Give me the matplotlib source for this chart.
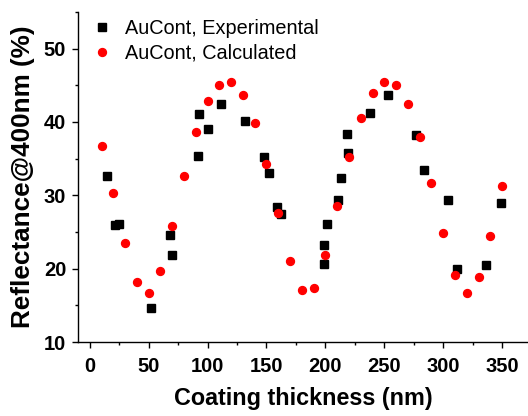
import matplotlib
matplotlib.use("Agg")
import matplotlib.pyplot as plt
from matplotlib.ticker import MultipleLocator

plt.rcParams['font.family'] = ['Liberation Sans', 'DejaVu Sans']

exp_x = [15, 21, 25, 52, 68, 70, 92, 93, 100, 111, 132, 148, 152, 159, 162,
         199, 199, 201, 211, 213, 218, 219, 238, 253, 277, 284, 304, 312, 336, 349]
exp_y = [32.6, 26.0, 26.1, 14.6, 24.6, 21.9, 35.4, 41.1, 39.0, 42.4, 40.2, 35.2, 33.0, 28.4, 27.4,
         20.7, 23.2, 26.1, 29.3, 32.4, 38.4, 35.8, 41.2, 43.7, 38.2, 33.4, 29.3, 20.0, 20.5, 29.0]

calc_x = [10, 20, 30, 40, 50, 60, 70, 80, 90, 100, 110, 120, 130, 140, 150, 160, 170, 180,
          190, 200, 210, 220, 230, 240, 250, 260, 270, 280, 290, 300, 310, 320, 330, 340, 350]
calc_y = [36.7, 30.3, 23.5, 18.2, 16.7, 19.7, 25.8, 32.6, 38.6, 42.9, 45.1, 45.4, 43.7, 39.9,
          34.3, 27.6, 21.1, 17.1, 17.4, 21.9, 28.6, 35.2, 40.5, 44.0, 45.5, 45.0, 42.4, 37.9,
          31.7, 24.9, 19.1, 16.7, 18.8, 24.4, 31.3]

W, H = 528, 416
fig = plt.figure(figsize=(W / 100, H / 100), dpi=100)
ax = fig.add_axes([78 / W, 1 - 342 / H, (W - 78) / W, (342 - 12) / H])

ax.plot(exp_x, exp_y, 's', color='black', markersize=5.2, linestyle='none',
        label='AuCont, Experimental')
ax.plot(calc_x, calc_y, 'o', color='#ff0000', markersize=5.7, linestyle='none',
        label='AuCont, Calculated')

ax.set_xlim(-10, 372)
ax.set_ylim(10, 55)
ax.xaxis.set_major_locator(MultipleLocator(50))
ax.xaxis.set_minor_locator(MultipleLocator(25))
ax.yaxis.set_major_locator(MultipleLocator(10))
ax.yaxis.set_minor_locator(MultipleLocator(5))
ax.set_yticks([10, 20, 30, 40, 50])

for s in ['top', 'right']:
    ax.spines[s].set_visible(False)
for s in ['left', 'bottom']:
    ax.spines[s].set_linewidth(1.0)

ax.tick_params(which='major', direction='out', length=4, width=1)
ax.tick_params(which='minor', direction='out', length=2.5, width=1)
ax.tick_params(axis='x', which='major', pad=6.5)
ax.tick_params(axis='y', which='major', pad=4.5)
for lab in ax.get_xticklabels() + ax.get_yticklabels():
    lab.set_fontsize(14.5)
    lab.set_fontweight('bold')

ax.set_xlabel('Coating thickness (nm)', fontsize=16.8, fontweight='bold', labelpad=8)
ax.set_ylabel('Reflectance@400nm (%)', fontsize=18.8, fontweight='bold', labelpad=6)

ax.legend(loc='upper left', bbox_to_anchor=(0.001, 1.015), frameon=False, fontsize=14.3,
          handletextpad=0.55, handlelength=1.2, borderaxespad=0.2, labelspacing=0.3)

fig.savefig('out.png', dpi=100)
